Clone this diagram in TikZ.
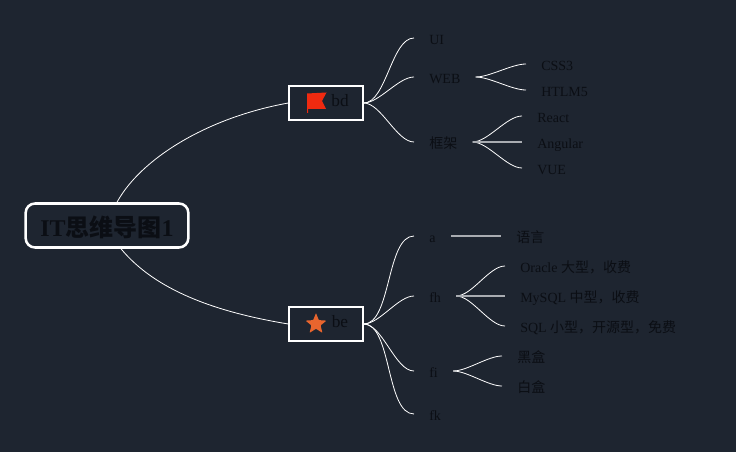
\documentclass[tikz,border=0pt]{standalone}
\usepackage{fontspec}
\setmainfont{Liberation Serif}
\newfontfamily\cjk{Noto Sans CJK SC}
\usetikzlibrary{shapes.geometric}
\definecolor{bgdark}{HTML}{1E2530}
\definecolor{inkdark}{HTML}{0B0E14}
\definecolor{flagred}{HTML}{F02A10}
\definecolor{staror}{HTML}{E8652E}
\definecolor{linegrey}{HTML}{A9ACB1}
\newcommand{\fwcomma}{\symbol{"FF0C}}
\tikzset{
	topic/.style={anchor=west,inner xsep=11.25pt,inner ysep=0pt,text height=10pt,text depth=0.1pt,text=inkdark,font=\fontsize{10.5}{12}\selectfont},
	mainbox/.style={draw=white,line width=1.5pt,minimum width=55pt,minimum height=26pt,inner sep=0pt,text height=5.2pt,text depth=0pt,text=inkdark,font=\fontsize{13}{15}\selectfont},
	branch/.style={draw=white,line width=0.6pt,out=0,in=180,looseness=0.7},
	flatline/.style={draw=linegrey,line width=1.1pt},
}
\begin{document}
\begin{tikzpicture}[x=0.75pt,y=-0.75pt]
	\fill[bgdark] (0,0) rectangle (736,452);
	\useasboundingbox (0,0) rectangle (736,452);
	% centre
	\node [draw=white,line width=1.9pt,rounded corners=7pt,minimum width=122pt,minimum height=33pt,inner sep=0pt,text height=17.2pt,text depth=0pt,text=inkdark,font=\fontsize{18}{20}\selectfont\bfseries] (root) at (107,225.5) {IT{\cjk 思维导图}1};
	\node [mainbox] (bd) at (326,103) {\hspace*{21pt}bd};
	\node [mainbox] (be) at (326,324) {\hspace*{21pt}be};
	\fill [flagred] (307,93.5)--(326.5,92.5)--(322,101)--(326,109)--(308,109)--(308,113)--(307,113)--cycle;
	\node [star,star points=5,star point ratio=2.3,fill=staror,inner sep=0pt,minimum size=16.5pt,rounded corners=0.6pt] (bestar) at (316,324) {};
	% first level
	\node [topic] (ui) at (414,38) {UI};
	\node [topic] (web) at (414,77) {WEB};
	\node [topic] (frame) at (414,142) {{\cjk 框架}};
	\node [topic] (a) at (414,236) {a};
	\node [topic] (fh) at (414,296) {fh};
	\node [topic] (fi) at (414,371) {fi};
	\node [topic] (fk) at (414,414) {fk};
	% second level
	\node [topic] (css) at (526,64) {CSS3};
	\node [topic] (html) at (526,90) {HTLM5};
	\node [topic] (react) at (522,116) {React};
	\node [topic] (angular) at (522,142) {Angular};
	\node [topic] (vue) at (522,168) {VUE};
	\node [topic] (lang) at (501,236) {{\cjk 语言}};
	\node [topic] (oracle) at (505,266) {Oracle {\cjk 大型\fwcomma 收费}};
	\node [topic] (mysql) at (505,296) {MySQL {\cjk 中型\fwcomma 收费}};
	\node [topic] (sql) at (505,326) {SQL {\cjk 小型\fwcomma 开源型\fwcomma 免费}};
	\node [topic] (black) at (502,356) {{\cjk 黑盒}};
	\node [topic] (white) at (502,386) {{\cjk 白盒}};
	% connectors
	\draw [white,line width=0.6pt] ([xshift=7.5pt]root.north) .. controls (140,160) and (205,118) .. (bd.west);
	\draw [white,line width=0.6pt] ([xshift=10.5pt]root.south) .. controls (155,290) and (215,312) .. (be.west);
	\foreach \to in {ui,web,frame}
		\draw [branch] (bd.east) to (\to.west);
	\foreach \to in {a,fh,fi,fk}
		\draw [branch] (be.east) to (\to.west);
	\foreach \from/\to in {web/css,web/html,frame/react,frame/vue,fh/oracle,fh/sql,fi/black,fi/white}
		\draw [branch] (\from.east) to (\to.west);
	\draw [flatline] (frame.east) -- (angular.west);
	\draw [flatline] (a.east) -- (lang.west);
	\draw [flatline] (fh.east) -- (mysql.west);
\end{tikzpicture}
\end{document}
